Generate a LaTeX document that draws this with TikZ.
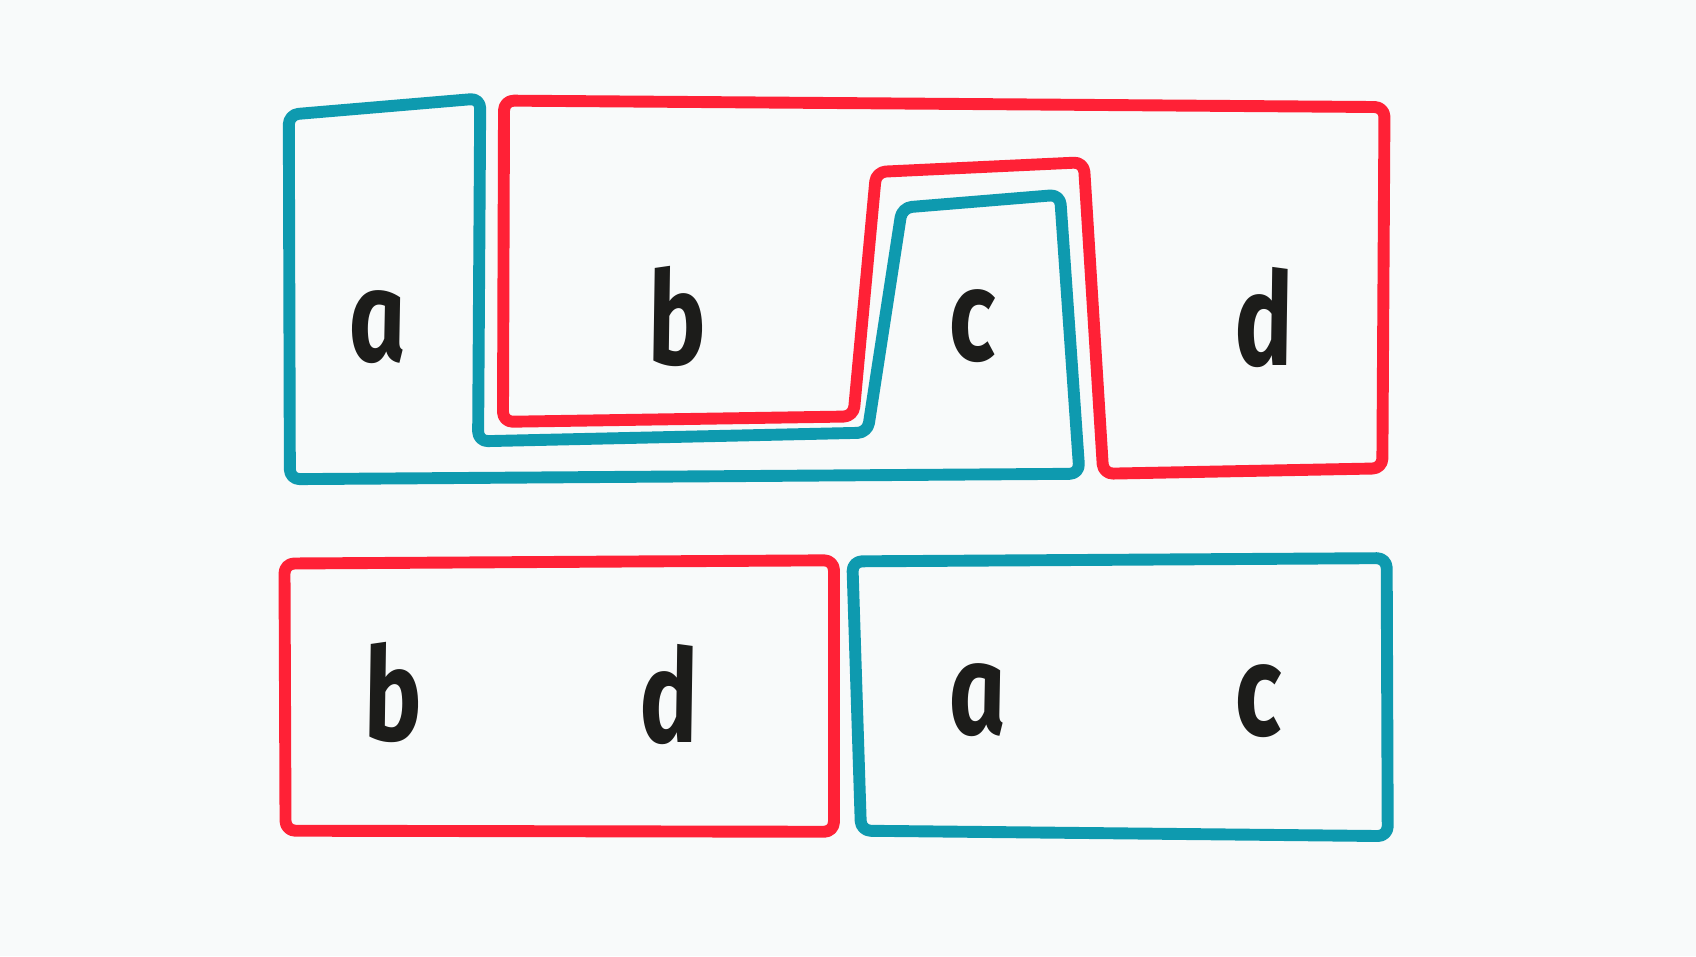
\documentclass[tikz,border=0pt]{standalone}
\usepackage{fontspec}
\setmainfont{Fira Sans}
\newfontfamily\handfont[ItalicFont={Fira Sans Bold Italic}, ItalicFeatures={FakeSlant=-0.12}]{Fira Sans}
\definecolor{bgc}{HTML}{F8FAFA}
\definecolor{tealc}{HTML}{0E9AAF}
\definecolor{redc}{HTML}{FF2136}
\definecolor{inkc}{HTML}{1C1C1A}
\newcommand{\narrowlbl}[1]{\scalebox{0.8}[1.05]{#1}}
\begin{document}
\begin{tikzpicture}[x=1pt,y=-1pt,
  outline/.style={line width=11pt, rounded corners=9pt, line join=round, line cap=round},
  lbl/.style={font=\fontsize{114}{114}\handfont\itshape, text=inkc, anchor=base, inner sep=0pt}]
\fill[bgc] (0,0) rectangle (1568,884);
\useasboundingbox (0,0) rectangle (1568,884);
% upper teal shape (a and c)
\draw[outline, draw=tealc] (267,106) -- (444,91) -- (442,408) -- (802,400) -- (834,192) -- (980,180) -- (998,438) -- (268,443) -- cycle;
% upper red shape (b and d)
\draw[outline, draw=redc] (466,93) -- (1280,99) -- (1278,433) -- (1020,438) -- (1002,150) -- (810,159) -- (789,385) -- (465,390) -- cycle;
% lower red box
\draw[outline, draw=redc] (263,521) -- (771,518) -- (771,769) -- (264,768) -- cycle;
% lower teal box
\draw[outline, draw=tealc] (788,519) -- (1282,516) -- (1283,773) -- (796,768) -- cycle;
% labels
\node[lbl] (ua) at (352,334) {\narrowlbl{a}};
\node[lbl] (ub) at (629,337) {\narrowlbl{b}};
\node[lbl] (uc) at (902,333) {\narrowlbl{c}};
\node[lbl] (ud) at (1172,338) {\narrowlbl{d}};
\node[lbl] (lb) at (366,685) {\narrowlbl{b}};
\node[lbl] (ld) at (622,686) {\narrowlbl{d}};
\node[lbl] (la) at (907,679) {\narrowlbl{a}};
\node[lbl] (lc) at (1166,680) {\narrowlbl{c}};
\end{tikzpicture}
\end{document}
